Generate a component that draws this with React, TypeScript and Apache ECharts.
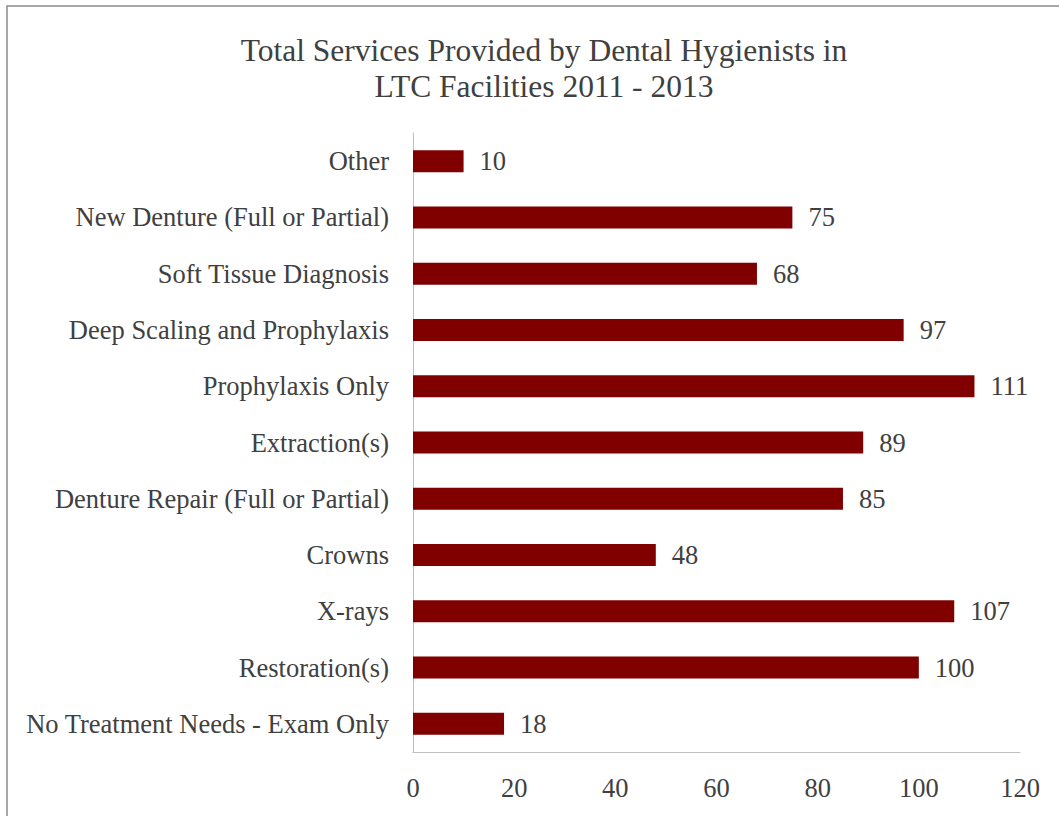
import React, { useEffect, useRef } from "react";
import * as echarts from "echarts";

const categories = [
  "No Treatment Needs - Exam Only",
  "Restoration(s)",
  "X-rays",
  "Crowns",
  "Denture Repair (Full or Partial)",
  "Extraction(s)",
  "Prophylaxis Only",
  "Deep Scaling and Prophylaxis",
  "Soft Tissue Diagnosis",
  "New Denture (Full or Partial)",
  "Other",
];
const values = [18, 100, 107, 48, 85, 89, 111, 97, 68, 75, 10];
const titleText = "Total Services Provided by Dental Hygienists in\nLTC Facilities 2011 - 2013";

export default function App() {
  const ref = useRef<HTMLDivElement>(null);
  useEffect(() => {
    const chart = echarts.init(ref.current!, null, { renderer: "svg" });
    const font = "'Liberation Serif', 'Times New Roman', serif";
    chart.setOption({
      animation: false,
      backgroundColor: "#ffffff",
      graphic: [
        {
          type: "rect",
          shape: { x: 7, y: 6, width: 1200, height: 1000 },
          style: { fill: "none", stroke: "#8a8a8a", lineWidth: 1.5 },
          silent: true,
        },
      ],
      title: {
        text: titleText,
        top: 27,
        left: 539,
        textAlign: "center",
        textStyle: {
          fontFamily: font,
          fontSize: 31.5,
          fontWeight: "normal",
          color: "#404040",
          lineHeight: 36,
        },
      },
      grid: { left: 413, right: 39, top: 133, bottom: 64, containLabel: false },
      xAxis: {
        type: "value",
        min: 0,
        max: 120,
        interval: 20,
        axisLine: { show: true, lineStyle: { color: "#bfbfbf", width: 1 } },
        axisTick: { show: false },
        splitLine: { show: false },
        axisLabel: { fontFamily: font, fontSize: 26.5, color: "#404040", margin: 22 },
      },
      yAxis: {
        type: "category",
        data: categories,
        axisLine: { show: true, lineStyle: { color: "#bfbfbf", width: 1 } },
        axisTick: { show: false },
        axisLabel: { fontFamily: font, fontSize: 26.5, color: "#404040", margin: 24 },
      },
      series: [
        {
          type: "bar",
          data: values,
          barWidth: 22,
          itemStyle: { color: "#800000" },
          label: {
            show: true,
            position: "right",
            distance: 16,
            fontFamily: font,
            fontSize: 26.5,
            color: "#404040",
          },
        },
      ],
    });
    return () => chart.dispose();
  }, []);
  return (
    <div
      ref={ref}
      style={{ position: "fixed", left: 0, top: 0, width: 1059, height: 816 }}
    />
  );
}
